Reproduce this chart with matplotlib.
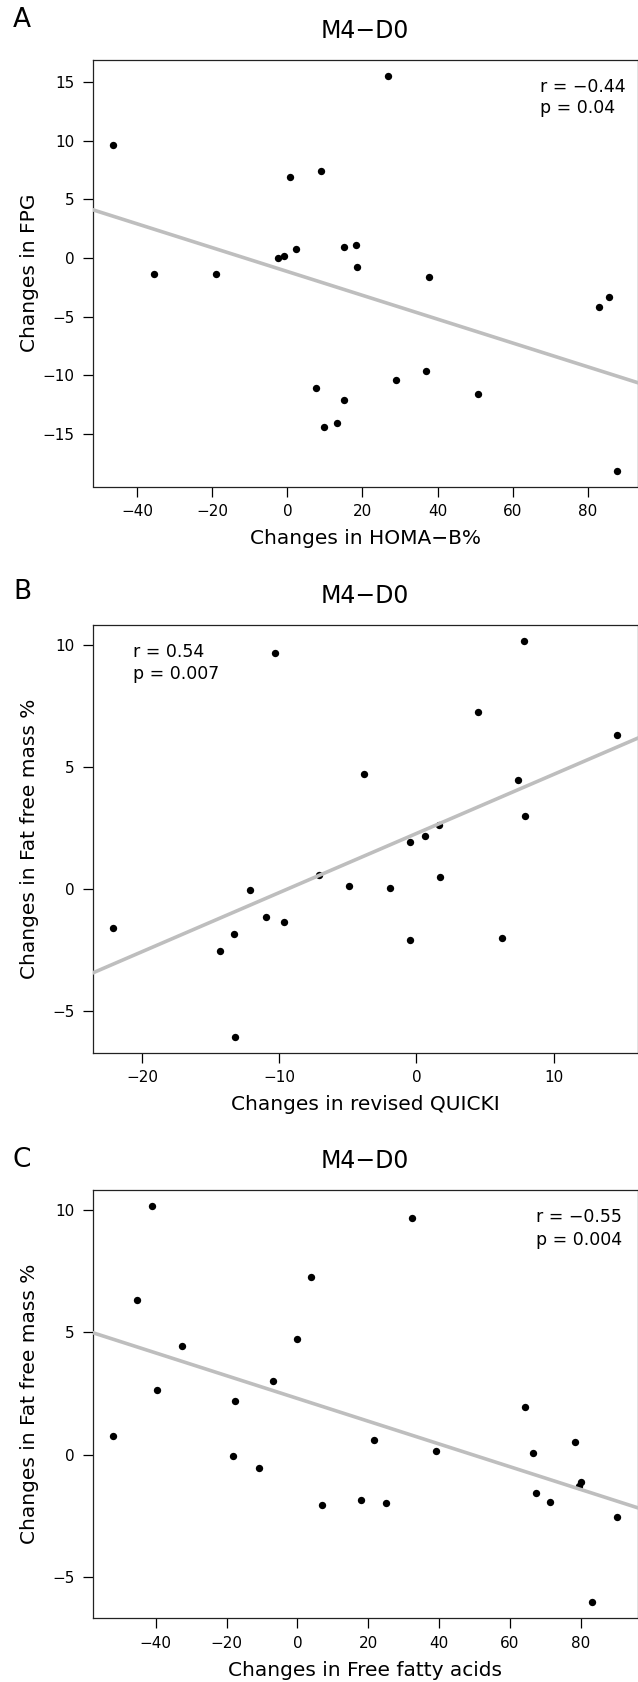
import numpy as np
import matplotlib
matplotlib.use("Agg")
import matplotlib.pyplot as plt

plt.rcParams['font.family'] = ['DejaVu Sans']

# ---------------- data ----------------
# Panel A: Changes in HOMA-B% vs Changes in FPG
x_a = [-46.4, -35.6, -18.9, -2.6, -1.0, 0.65, 2.3, 7.7, 9.0, 9.7, 13.2, 15.0,
       15.0, 18.2, 18.6, 26.9, 29.0, 37.0, 37.7, 50.7, 83.1, 85.8, 87.9]
y_a = [9.66, -1.37, -1.37, 0.0, 0.18, 6.95, 0.76, -11.14, 7.41, -14.39, -14.06, 0.97,
       -12.12, 1.09, -0.73, 15.55, -10.42, -9.69, -1.61, -11.63, -4.16, -3.34, -18.16]

# Panel B: Changes in revised QUICKI vs Changes in Fat free mass %
x_b = [-22.1, -14.29, -13.31, -13.22, -12.1, -10.95, -10.30, -9.64, -7.13, -4.91,
       -3.82, -1.92, -0.44, -0.44, 0.65, 1.66, 1.75, 4.47, 6.24, 7.40, 7.87, 7.93, 14.64]
y_b = [-1.58, -2.54, -1.84, -6.04, -0.04, -1.13, 9.68, -1.36, 0.57, 0.15,
       4.74, 0.07, 1.93, -2.06, 2.18, 2.65, 0.51, 7.27, -1.99, 4.46, 10.18, 3.01, 6.32]

# Panel C: Changes in Free fatty acids vs Changes in Fat free mass %
x_c = [-52.06, -45.3, -41.2, -39.8, -32.7, -18.3, -17.5, -10.9, -6.8, -0.1, 3.9, 6.9,
       18.1, 21.6, 25.0, 32.5, 39.1, 64.2, 66.6, 67.4, 71.4, 78.4, 79.5, 80.0, 83.3, 90.4]
y_c = [0.76, 6.33, 10.17, 2.66, 4.46, -0.05, 2.19, -0.56, 3.00, 4.75, 7.27, -2.05,
       -1.84, 0.59, -1.97, 9.68, 0.15, 1.94, 0.09, -1.56, -1.91, 0.52, -1.29, -1.11, -6.02, -2.53]

letters = ["A", "B", "C"]
titles = ["M4\u2212D0", "M4\u2212D0", "M4\u2212D0"]
xlabels = ["Changes in HOMA\u2212B%", "Changes in revised QUICKI", "Changes in Free fatty acids"]
ylabels = ["Changes in FPG", "Changes in Fat free mass %", "Changes in Fat free mass %"]
r_texts = ["r = \u22120.44", "r = 0.54", "r = \u22120.55"]
p_texts = ["p = 0.04", "p = 0.007", "p = 0.004"]
xticks_a = [-40, -20, 0, 20, 40, 60, 80]
yticks_a = [-15, -10, -5, 0, 5, 10, 15]
xticks_b = [-20, -10, 0, 10]
yticks_b = [-5, 0, 5, 10]
xticks_c = [-40, -20, 0, 20, 40, 60, 80]
yticks_c = [-5, 0, 5, 10]

# ---------------- layout (pixels) ----------------
W, H = 638, 1682
fig = plt.figure(figsize=(W / 100, H / 100), dpi=100)

boxes = [(60, 486.5), (625, 1052.5), (1190, 1618)]
left_px, right_px = 93, 637.5
letter_base = [27, 599, 1167]
ann_x = [540, 133, 536]
ann_base = [(92, 113), (657, 679), (1222.5, 1245)]

data = [(x_a, y_a, xticks_a, yticks_a), (x_b, y_b, xticks_b, yticks_b),
        (x_c, y_c, xticks_c, yticks_c)]

for i, (xs, ys, xt, yt) in enumerate(data):
    top, bot = boxes[i]
    ax = fig.add_axes([left_px / W, 1 - bot / H, (right_px - left_px) / W, (bot - top) / H])
    xs = np.asarray(xs); ys = np.asarray(ys)
    ax.scatter(xs, ys, s=28, color="black", linewidths=0, zorder=2)
    xr = xs.max() - xs.min(); yr = ys.max() - ys.min()
    ax.set_xlim(xs.min() - 0.04 * xr, xs.max() + 0.04 * xr)
    ax.set_ylim(ys.min() - 0.04 * yr, ys.max() + 0.04 * yr)
    slope, intercept = np.polyfit(xs, ys, 1)
    ax.axline((0, intercept), slope=slope, color="#bebebe", lw=2.6, zorder=3)

    ax.set_xticks(xt)
    ax.set_yticks(yt)
    ax.tick_params(direction="out", length=7.2, width=0.9, labelsize=11,
                   top=False, right=False, color="black")
    ax.tick_params(axis="y", pad=6.0)
    ax.tick_params(axis="x", pad=5.5)
    for sp in ax.spines.values():
        sp.set_linewidth(0.9)
        sp.set_color("#222222")

    ax.set_title(titles[i], fontsize=17, pad=16)
    ax.set_xlabel(xlabels[i], fontsize=14.5)
    ax.set_ylabel(ylabels[i], fontsize=14.5)
    axw = right_px - left_px
    axh = bot - top
    ax.xaxis.set_label_coords(0.5, -(529 - 486.5) / axh)
    ax.yaxis.set_label_coords(-(93 - 39) / axw, 0.5)

    fig.text(13 / W, 1 - letter_base[i] / H, letters[i], fontsize=19,
             ha="left", va="baseline")
    fig.text(ann_x[i] / W, 1 - ann_base[i][0] / H, r_texts[i], fontsize=12.5,
             ha="left", va="baseline")
    fig.text(ann_x[i] / W, 1 - ann_base[i][1] / H, p_texts[i], fontsize=12.5,
             ha="left", va="baseline")

fig.savefig("out.png", dpi=100, facecolor="white")
